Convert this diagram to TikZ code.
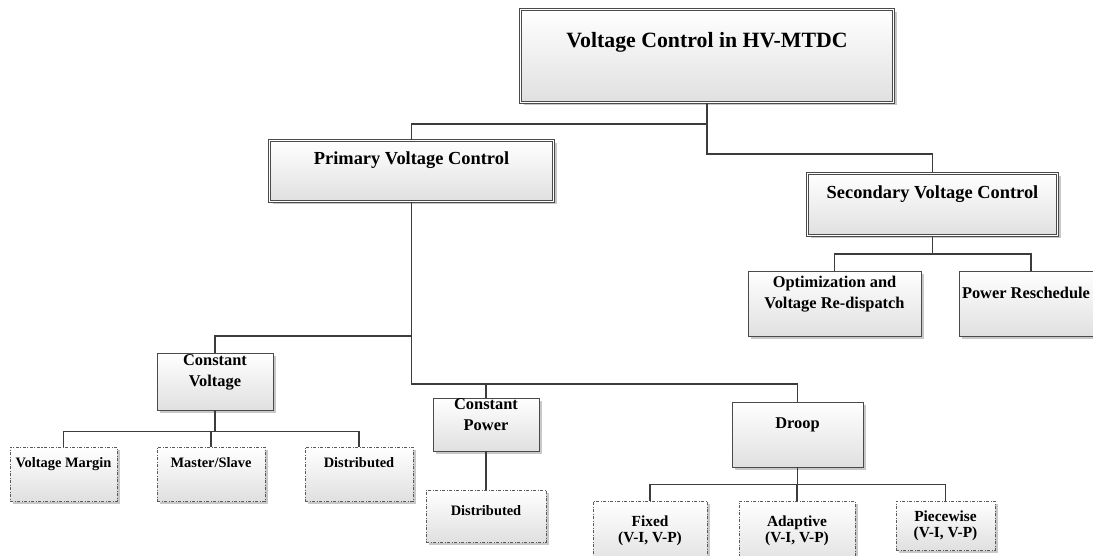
\documentclass[tikz,border=0pt]{standalone}
\usepackage{fontspec}
\setmainfont{Liberation Serif}
\usetikzlibrary{positioning,shadows}

\definecolor{edgegray}{HTML}{3C3C3C}
\definecolor{boxline}{HTML}{4A4A4A}
\definecolor{dashline}{HTML}{5A5A5A}
\definecolor{boxshade}{HTML}{E0E0E0}
\definecolor{shadowgray}{HTML}{C8C8C8}

\tikzset{
  box/.style={draw=boxline, line width=0.9pt, top color=white, bottom color=boxshade,
    general shadow={fill=shadowgray, shadow xshift=3pt, shadow yshift=-3pt},
    inner sep=0pt},
  mainbox/.style={box, line width=0.8pt, double=white, double distance=1.4pt},
  leafbox/.style={box, draw=dashline, line width=0.7pt,
    dash pattern=on 3pt off 1.5pt on 1pt off 1.5pt},
  conn/.style={draw=edgegray, line width=1.9pt},
  txt/.style={inner sep=0pt, outer sep=0pt, align=center},
  fbig/.style={font=\bfseries\fontsize{21.8}{25}\selectfont},
  fmid/.style={font=\bfseries\fontsize{18.4}{22}\selectfont},
  fsub/.style={font=\bfseries\fontsize{16.4}{21}\selectfont},
  fleaf/.style={font=\bfseries\fontsize{14.4}{18}\selectfont},
  fpair/.style={font=\bfseries\fontsize{15.4}{16}\selectfont},
}

\begin{document}
\begin{tikzpicture}[x=1pt, y=-1pt]
  \clip (0,0) rectangle (1093,556);

  % boxes, top level
  \node[mainbox, minimum width=373, minimum height=93] (root) at (707,56) {};
  \node[mainbox, minimum width=284, minimum height=61] (primary) at (411.5,171) {};
  \node[mainbox, minimum width=250, minimum height=62] (secondary) at (932.5,204.5) {};
  \draw[conn] (root.south) -- ++(0,21) -| (primary.north);
  \draw[conn] (root.south) -- ++(0,51) -| (secondary.north);

  % secondary branch
  \node[box, minimum width=173, minimum height=65] (optim) at (834.5,303.5) {};
  \node[box, minimum width=144, minimum height=65] (resched) at (1031,303.5) {};
  \draw[conn] (secondary.south) -- ++(0,18) -| (optim.north);
  \draw[conn] (secondary.south) -- ++(0,18) -| (resched.north);

  % primary branch
  \node[box, minimum width=116, minimum height=57] (cvolt) at (215,381.5) {};
  \node[box, minimum width=106, minimum height=53] (cpow) at (486,424.5) {};
  \node[box, minimum width=131, minimum height=65] (droop) at (797.5,434.5) {};
  \draw[conn] (primary.south) -- ++(0,134) -| (cvolt.north);
  \draw[conn] (primary.south) -- ++(0,182) -| (droop.north);
  \draw[conn] (primary.south) -- ++(0,182) -| (cpow.north);

  % leaves
  \node[leafbox, minimum width=107, minimum height=54] (vmargin) at (63.5,474) {};
  \node[leafbox, minimum width=108, minimum height=54] (mslave) at (211,474) {};
  \node[leafbox, minimum width=108, minimum height=54] (distcv) at (359,474) {};
  \node[leafbox, minimum width=120, minimum height=52] (distcp) at (486,516) {};
  \node[leafbox, minimum width=114, minimum height=65] (fixed) at (650,533.5) {};
  \node[leafbox, minimum width=116, minimum height=65] (adapt) at (797,533.5) {};
  \node[leafbox, minimum width=99, minimum height=49] (piece) at (945.5,525.5) {};
  \foreach \leaf in {vmargin, mslave, distcv}
    \draw[conn] (cvolt.south) -- ++(0,21) -| (\leaf.north);
  \draw[conn] (cpow.south) -- (distcp.north);
  \foreach \leaf in {fixed, adapt, piece}
    \draw[conn] (droop.south) -- ++(0,17) -| (\leaf.north);

  % labels
  \node[txt, fbig, below=23.5pt of root.north] (rootT) {Voltage Control in HV-MTDC};
  \node[txt, fmid, below=11.5pt of primary.north] (primaryT) {Primary Voltage Control};
  \node[txt, fmid, below=12.5pt of secondary.north] (secondaryT) {Secondary Voltage Control};
  \node[txt, fsub, below=6pt of optim.north] (optimT) {Optimization and\\Voltage Re-dispatch};
  \node[txt, fsub, below=17pt of resched.north, xshift=-5pt] (reschedT) {Power Reschedule};
  \node[txt, fsub, below=2pt of cvolt.north] (cvoltT) {Constant\\Voltage};
  \node[txt, fsub, below=1pt of cpow.north] (cpowT) {Constant\\Power};
  \node[txt, fsub, below=16pt of droop.north] (droopT) {Droop};
  \node[txt, fleaf, below=11pt of vmargin.north] (vmarginT) {Voltage Margin};
  \node[txt, fleaf, below=11pt of mslave.north] (mslaveT) {Master/Slave};
  \node[txt, fleaf, below=11pt of distcv.north] (distcvT) {Distributed};
  \node[txt, fleaf, below=16pt of distcp.north] (distcpT) {Distributed};
  \node[txt, fpair, below=15pt of fixed.north] (fixedT) {Fixed\\(V-I, V-P)};
  \node[txt, fpair, below=15pt of adapt.north] (adaptT) {Adaptive\\(V-I, V-P)};
  \node[txt, fpair, below=10pt of piece.north] (pieceT) {Piecewise\\(V-I, V-P)};
\end{tikzpicture}
\end{document}
